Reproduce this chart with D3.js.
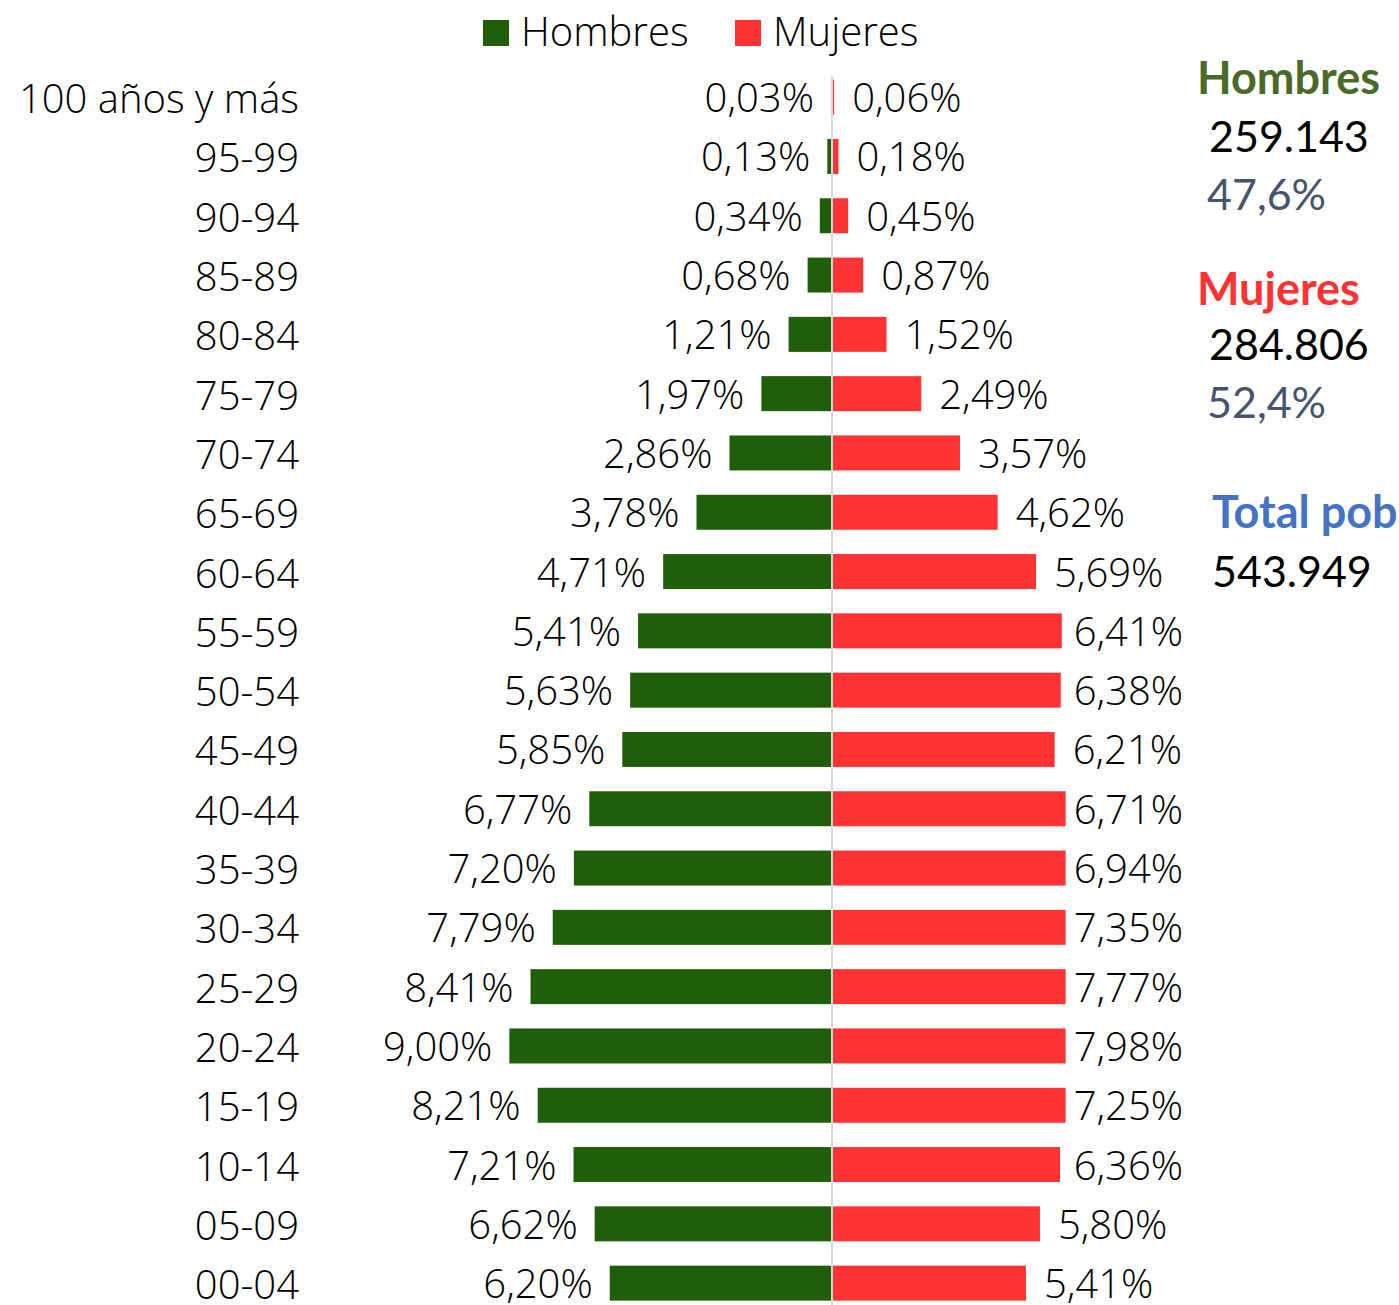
<!DOCTYPE html>
<html><head><meta charset="utf-8">
<script src="https://cdn.jsdelivr.net/npm/d3@7"></script>
<style>
html,body{margin:0;padding:0;background:#fff;overflow:hidden}
svg{display:block}
</style></head>
<body>
<svg id="chart" width="1399" height="1305"></svg>
<script>
const ages = ["100 años y más","95-99","90-94","85-89","80-84","75-79","70-74","65-69","60-64","55-59","50-54","45-49","40-44","35-39","30-34","25-29","20-24","15-19","10-14","05-09","00-04"];
const hombres = [0.03,0.13,0.34,0.68,1.21,1.97,2.86,3.78,4.71,5.41,5.63,5.85,6.77,7.20,7.79,8.41,9.00,8.21,7.21,6.62,6.20];
const mujeres = [0.06,0.18,0.45,0.87,1.52,2.49,3.57,4.62,5.69,6.41,6.38,6.21,6.71,6.94,7.35,7.77,7.98,7.25,6.36,5.80,5.41];
const seriesNames = ["Hombres","Mujeres"];
const totalHombres = 259143;
const totalMujeres = 284806;

const colH = "#215e09", colM = "#ff3333";
const font = "'Open Sans', 'Noto Sans', sans-serif";
const es = d3.formatLocale({decimal: ",", thousands: ".", grouping: [3], currency: ["", " €"]});
const fPct = v => es.format(".2f")(v) + "%";
const fInt = es.format(",d");
const fShare = es.format(".1%");

const svg = d3.select("#chart");
const cx = 832;
const y = d3.scaleBand().domain(ages).range([67.5, 1312.8]).paddingInner(0.41).paddingOuter(0.205);
const xM = d3.scaleLinear().domain([0, 10]).range([cx, cx - 358.5]);
const xF = d3.scaleLinear().domain([0, 10]).range([cx, cx + 358.5]);
const plotRight = 1183;
const ageOff = 16, valOff = 15;

// bars
svg.append("g").selectAll("rect").data(ages).join("rect")
  .attr("x", (d, i) => xM(hombres[i])).attr("y", d => y(d))
  .attr("width", (d, i) => Math.max(0, xM(0) - 1 - xM(hombres[i])))
  .attr("height", y.bandwidth()).attr("fill", colH);
svg.append("g").selectAll("rect").data(ages).join("rect")
  .attr("x", cx + 1).attr("y", d => y(d))
  .attr("width", (d, i) => Math.max(0.8, xF(mujeres[i]) - cx - 1))
  .attr("height", y.bandwidth()).attr("fill", colM);

// centre line
svg.append("line").attr("x1", cx).attr("x2", cx).attr("y1", 76).attr("y2", 1305)
  .attr("stroke", "#d9d9d9").attr("stroke-width", 2);

// age labels (right-aligned, but kept inside the left margin)
const gA = svg.append("g");
ages.forEach(a => {
  const t = gA.append("text").attr("y", y(a) + y.bandwidth() / 2 + ageOff)
    .attr("text-anchor", "end").attr("font-family", font).attr("font-weight", 300)
    .attr("font-size", 40).attr("fill", "#000").text(a);
  const w = t.node().getComputedTextLength();
  let xr = 299;
  if (xr - w < 12) xr = 12 + w;
  t.attr("x", xr);
});

// male value labels
svg.append("g").selectAll("text").data(ages).join("text")
  .attr("x", (d, i) => xM(hombres[i]) - 17).attr("y", d => y(d) + y.bandwidth() / 2 + valOff)
  .attr("text-anchor", "end").attr("font-family", font).attr("font-weight", 300)
  .attr("font-size", 40).attr("fill", "#000").text((d, i) => fPct(hombres[i]));

// female value labels (clamped to plot edge, white box behind)
const gF = svg.append("g");
ages.forEach((a, i) => {
  const g = gF.append("g");
  const bg = g.append("rect").attr("fill", "#fff");
  const t = g.append("text").attr("font-family", font).attr("font-weight", 300)
    .attr("font-size", 40).attr("fill", "#000").attr("y", y(a) + y.bandwidth() / 2 + valOff)
    .text(fPct(mujeres[i]));
  const w = t.node().getComputedTextLength();
  let x0 = xF(mujeres[i]) + 18;
  if (x0 + w > plotRight) x0 = plotRight - w;
  t.attr("x", x0);
  bg.attr("x", x0 - 8).attr("y", y(a) - 2).attr("width", w + 10).attr("height", y.bandwidth() + 4);
});

// legend
const leg = [{name: seriesNames[0], c: colH, x: 483}, {name: seriesNames[1], c: colM, x: 735}];
const lg = svg.append("g");
lg.selectAll("rect").data(leg).join("rect").attr("x", d => d.x).attr("y", 20)
  .attr("width", 26).attr("height", 26).attr("fill", d => d.c);
lg.selectAll("text").data(leg).join("text").attr("x", d => d.x + 38).attr("y", 46)
  .attr("font-family", font).attr("font-weight", 300).attr("font-size", 40)
  .attr("fill", "#000").text(d => d.name);

// side panel
const total = totalHombres + totalMujeres;
const side = [
  {t: "Hombres", x: 1197, y: 94, c: "#4a6a28", b: true},
  {t: fInt(totalHombres), x: 1209, y: 152, c: "#000"},
  {t: fShare(totalHombres / total), x: 1207, y: 210, c: "#44546a"},
  {t: "Mujeres", x: 1197, y: 305, c: "#ff3333", b: true},
  {t: fInt(totalMujeres), x: 1209, y: 360, c: "#000"},
  {t: fShare(totalMujeres / total), x: 1207, y: 418, c: "#44546a"},
  {t: "Total pob", x: 1212, y: 528, c: "#4472c4", b: true},
  {t: fInt(total), x: 1212, y: 587, c: "#000"}
];
svg.append("g").selectAll("text").data(side).join("text")
  .attr("x", d => d.x).attr("y", d => d.y)
  .attr("font-family", "Lato, 'Open Sans', sans-serif")
  .attr("font-weight", d => d.b ? 700 : 400)
  .attr("font-size", d => d.b ? 45 : 43)
  .attr("fill", d => d.c).text(d => d.t);
</script>
</body></html>
